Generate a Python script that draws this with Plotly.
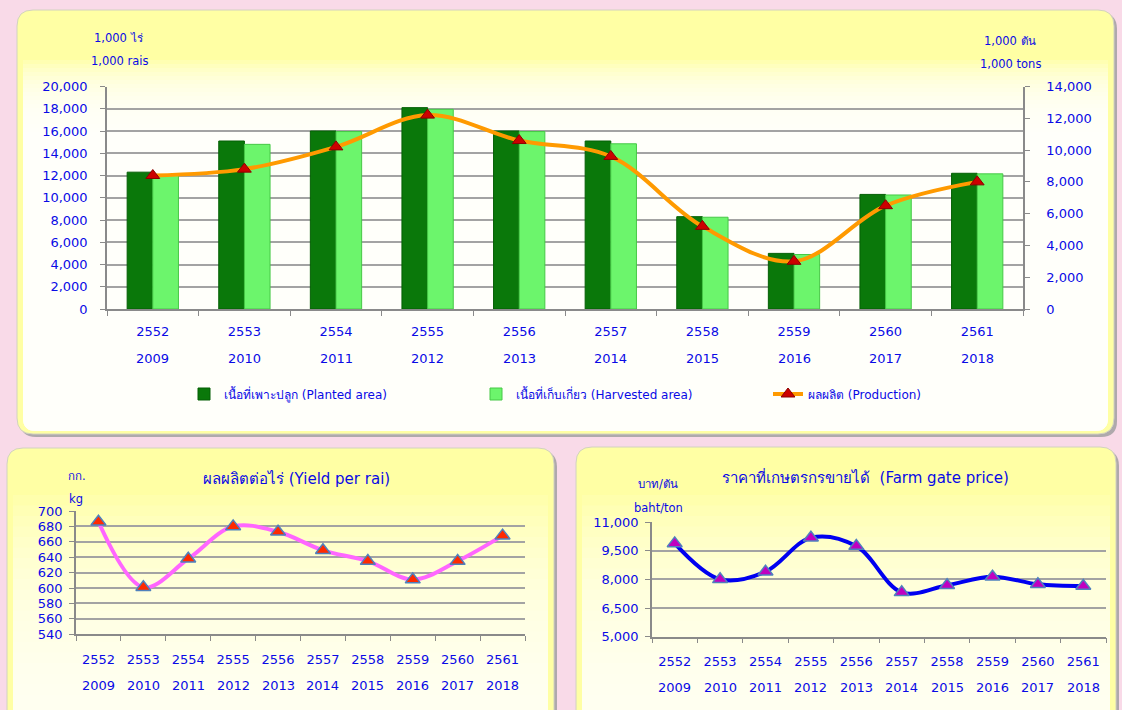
import plotly.graph_objects as go

# ---------------- data ----------------
thai_years = ["2552", "2553", "2554", "2555", "2556", "2557", "2558", "2559", "2560", "2561"]
greg_years = ["2009", "2010", "2011", "2012", "2013", "2014", "2015", "2016", "2017", "2018"]
planted_area = [12300, 15100, 16000, 18100, 16000, 15100, 8300, 5000, 10300, 12200]
harvested_area = [12000, 14800, 15950, 17950, 15950, 14850, 8250, 4900, 10250, 12150]
production = [8400, 8800, 10200, 12200, 10600, 9600, 5200, 3000, 6500, 8000]
yield_per_rai = [686, 601, 638, 680, 673, 649, 635, 611, 635, 668]
farm_price = [9880, 8000, 8400, 10180, 9740, 7320, 7690, 8140, 7740, 7650]

name_planted = "เนื้อที่เพาะปลูก (Planted area)"
name_harvested = "เนื้อที่เก็บเกี่ยว (Harvested area)"
name_production = "ผลผลิต (Production)"
title_yield = "ผลผลิตต่อไร่ (Yield per rai)"
title_price = "ราคาที่เกษตรกรขายได้  (Farm gate price)"

# ---------------- style ----------------
W, H = 1122, 710
FONT = "DejaVu Sans, Noto Sans, sans-serif"
BLUE = "#0A0AE6"
GRID = "#A3A3A3"
AXIS = "#8A8A8A"
idx = list(range(len(thai_years)))


def xd(a, b):
    return [a / W, b / W]


def yd(top, bottom):
    return [1 - bottom / H, 1 - top / H]


def py(v):
    return 1 - v / H


fig = go.Figure()

# top chart
fig.add_trace(go.Bar(x=idx, y=planted_area, name=name_planted, xaxis="x", yaxis="y",
                     marker=dict(color="#0A780A", line=dict(color="#055F05", width=1))))
fig.add_trace(go.Bar(x=idx, y=harvested_area, name=name_harvested, xaxis="x", yaxis="y",
                     marker=dict(color="#6CF56C", line=dict(color="#46C846", width=1))))
fig.add_trace(go.Scatter(x=idx, y=production, name=name_production, xaxis="x", yaxis="y2",
                         mode="lines+markers",
                         line=dict(color="#FF9A00", width=4, shape="spline", smoothing=1),
                         marker=dict(symbol="triangle-up", size=12, color="#CC0000",
                                     line=dict(color="#8B0000", width=1))))
# yield chart
fig.add_trace(go.Scatter(x=idx, y=yield_per_rai, xaxis="x3", yaxis="y3", showlegend=False,
                         mode="lines+markers",
                         line=dict(color="#FF66FF", width=4, shape="spline", smoothing=1),
                         marker=dict(symbol="triangle-up", size=13, color="#FF2A00",
                                     line=dict(color="#4F81BD", width=1.5))))
# price chart
fig.add_trace(go.Scatter(x=idx, y=farm_price, xaxis="x4", yaxis="y4", showlegend=False,
                         mode="lines+markers",
                         line=dict(color="#0000F0", width=4, shape="spline", smoothing=1),
                         marker=dict(symbol="triangle-up", size=13, color="#C000C0",
                                     line=dict(color="#4F81BD", width=1.5))))

tickfont = dict(family=FONT, size=13, color=BLUE)


def xaxis_cfg(domain, anchor, standoff):
    return dict(domain=domain, anchor=anchor, range=[-0.5, len(idx) - 0.5],
                tickmode="array", tickvals=idx, ticktext=thai_years, ticks="",
                ticklabelstandoff=standoff, tickfont=tickfont, automargin=False,
                showline=True, linecolor=AXIS, linewidth=1.5, showgrid=False, zeroline=False,
                minor=dict(tickmode="array", tickvals=[i - 0.5 for i in range(len(idx) + 1)],
                           ticks="outside", ticklen=5, tickcolor=AXIS, tickwidth=1, showgrid=False),
                fixedrange=True)


def yaxis_cfg(domain, anchor, rng, dtick, standoff, grid=True, side="left"):
    return dict(domain=domain, anchor=anchor, range=rng, dtick=dtick, tick0=rng[0],
                tickformat=",d", ticks="outside", ticklen=5, tickcolor=AXIS,
                ticklabelstandoff=standoff, tickfont=tickfont, side=side, automargin=False,
                showline=True, linecolor=AXIS, linewidth=1.5,
                showgrid=grid, gridcolor=GRID, gridwidth=1.5, zeroline=False, fixedrange=True)


top_dom_x = xd(107, 1023)
top_dom_y = yd(86.5, 309)
yl_dom_x = xd(76, 525)
yl_dom_y = yd(511, 634.3)
pr_dom_x = xd(652, 1106)
pr_dom_y = yd(522, 636.7)

fig.update_layout(
    width=W, height=H,
    margin=dict(l=0, r=0, t=0, b=0, pad=0, autoexpand=False),
    paper_bgcolor="#F9DAE8",
    plot_bgcolor="#FFFFFF",
    font=dict(family=FONT, color=BLUE),
    barmode="group", bargap=0.44, bargroupgap=0,
    xaxis=xaxis_cfg(top_dom_x, "y", 10),
    yaxis=yaxis_cfg(top_dom_y, "x", [0, 20000], 2000, 10),
    yaxis2=dict(yaxis_cfg(top_dom_y, "x", [0, 14000], 2000, 14, grid=False, side="right"),
                overlaying="y"),
    xaxis3=xaxis_cfg(yl_dom_x, "y3", 12),
    yaxis3=yaxis_cfg(yl_dom_y, "x3", [540, 700], 20, 4),
    xaxis4=xaxis_cfg(pr_dom_x, "y4", 12),
    yaxis4=yaxis_cfg(pr_dom_y, "x4", [5000, 11000], 1500, 4),
    legend=dict(orientation="h", x=184 / W, y=py(394), xanchor="left", yanchor="middle",
                entrywidth=247, entrywidthmode="pixels", bgcolor="rgba(0,0,0,0)",
                font=dict(family=FONT, size=12, color=BLUE), itemclick=False,
                tracegroupgap=0),
    showlegend=True,
)

# ---------------- panels (rounded, with shadow and yellow fade) ----------------
shapes = []


def rr_path(x0, y0, x1, y1, r, top_round=True):
    X0, X1 = x0 / W, x1 / W

    def Y(v):
        return 1 - v / H
    rx = r / W
    if top_round:
        p = (f"M{X0 + rx},{Y(y0)} L{X1 - rx},{Y(y0)} Q{X1},{Y(y0)} {X1},{Y(y0 + r)} ")
    else:
        p = f"M{X0},{Y(y0)} L{X1},{Y(y0)} "
    p += (f"L{X1},{Y(y1 - r)} Q{X1},{Y(y1)} {X1 - rx},{Y(y1)} "
          f"L{X0 + rx},{Y(y1)} Q{X0},{Y(y1)} {X0},{Y(y1 - r)} ")
    if top_round:
        p += f"L{X0},{Y(y0 + r)} Q{X0},{Y(y0)} {X0 + rx},{Y(y0)} Z"
    else:
        p += f"L{X0},{Y(y0)} Z"
    return p


def panel(x0, y0, x1, y1, fade_start, fade_end, nb=8, r=16, op=0.3):
    shapes.append(dict(type="path", xref="paper", yref="paper", layer="below",
                       path=rr_path(x0 + 3, y0 + 3, x1 + 3, y1 + 3, r),
                       fillcolor="#9C9C9C", line=dict(width=0), opacity=0.8))
    shapes.append(dict(type="path", xref="paper", yref="paper", layer="below",
                       path=rr_path(x0, y0, x1, y1, r),
                       fillcolor="#FFFFA4", line=dict(color="#D2D2C0", width=1)))
    step = (fade_end - fade_start) / nb
    for k in range(nb):
        yy = fade_start + k * step
        shapes.append(dict(type="path", xref="paper", yref="paper", layer="below",
                           path=rr_path(x0 + 6, yy, x1 - 6, y1 - 3, r - 3, top_round=False),
                           fillcolor="#FFFFFF", line=dict(width=0), opacity=op))


panel(17, 10, 1114, 434, 60, 140, nb=20, op=0.16)
panel(7, 448, 554, 730, 495, 705, nb=20, op=0.1)
panel(576, 447, 1116, 730, 495, 705, nb=20, op=0.1)

fig.update_layout(shapes=shapes)

# ---------------- annotations ----------------
ann = []


def txt(x, y, t, size=11.5, anchor="center"):
    ann.append(dict(x=x / W, y=py(y), xref="paper", yref="paper", text=t, showarrow=False,
                    xanchor=anchor, yanchor="middle",
                    font=dict(family=FONT, size=size, color=BLUE)))


txt(118, 38, "1,000 ไร่")
txt(120, 61, "1,000 rais")
txt(1010, 41, "1,000 ตัน")
txt(1010, 64, "1,000 tons")
txt(296, 479, title_yield, size=15)
txt(77, 476, "กก.", size=11.5)
txt(76, 499, "kg", size=11.5)
txt(865, 477, title_price, size=15)
txt(658, 484, "บาท/ตัน", size=11.5)
txt(658, 508, "baht/ton", size=11.5)

# second row of category labels (Gregorian years)
for xa, ypix in (("x", 358), ("x3", 685), ("x4", 687)):
    for i, g in zip(idx, greg_years):
        ann.append(dict(x=i, xref=xa, y=py(ypix), yref="paper", text=g, showarrow=False,
                        xanchor="center", yanchor="middle",
                        font=dict(family=FONT, size=13, color=BLUE)))

fig.update_layout(annotations=ann)

fig.write_html("out.html", config={"displayModeBar": False},
               post_script="document.body.style.margin='0';document.body.style.overflow='hidden';")
